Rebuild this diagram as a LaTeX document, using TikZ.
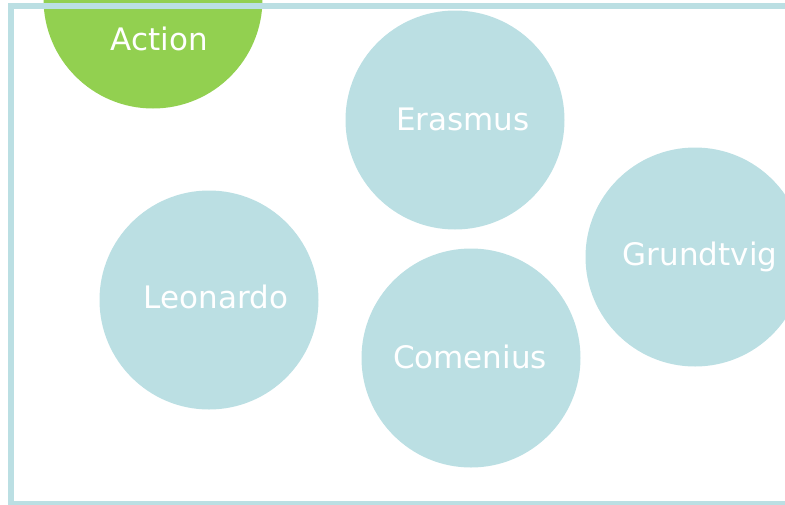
\documentclass[tikz,border=0pt]{standalone}
\usepackage{fontspec}
\setmainfont{DejaVu Sans}
\definecolor{aqua}{HTML}{BBDFE3}
\definecolor{lgreen}{HTML}{92D050}
\begin{document}
\begin{tikzpicture}[x=1pt,y=-1pt,
  bubble/.style={circle,fill=aqua,draw=none,minimum size=219pt,inner sep=0pt},
  actbubble/.style={bubble,fill=lgreen},
  lbl/.style={text=white,font=\fontsize{31}{37}\selectfont,anchor=base,inner sep=0pt}]
\useasboundingbox (0,0) rectangle (785,504);
\clip (0,0) rectangle (785,504);
\node[actbubble] (act) at (153,-1) {};
\node[lbl] (actl) at (159.5,50) {Action};
\draw[aqua,line width=5.5pt] (800,6) -- (11,6) -- (11,504) -- (800,504);
\node[bubble] (era) at (455,120) {};
\node[lbl] (eral) at (463,130) {Erasmus};
\node[bubble] (leo) at (209,300) {};
\node[lbl] (leol) at (216,308) {Leonardo};
\node[bubble] (com) at (471,358) {};
\node[lbl] (coml) at (470,368) {Comenius};
\node[bubble] (gru) at (695,257) {};
\node[lbl] (grul) at (700,265) {Grundtvig};
\end{tikzpicture}
\end{document}
